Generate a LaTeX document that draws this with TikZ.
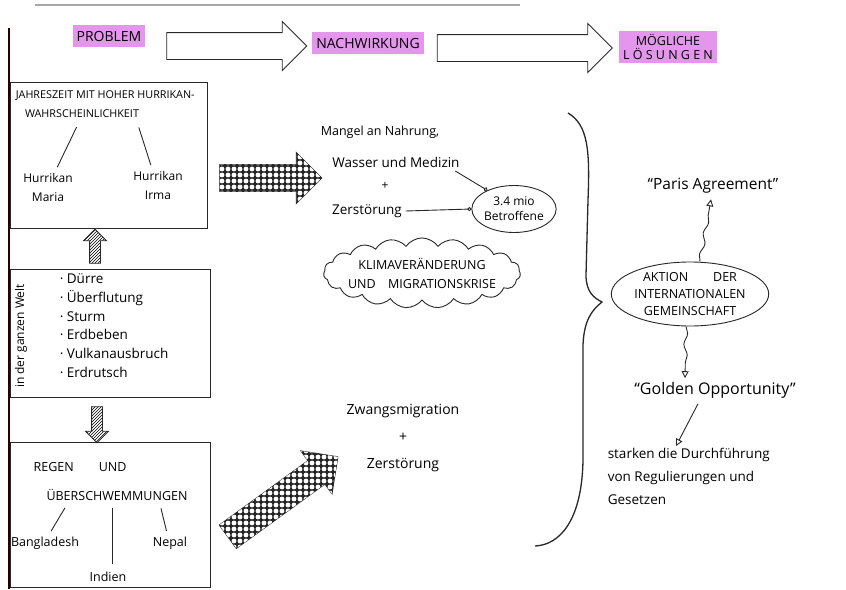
\documentclass[tikz,border=0pt]{standalone}
\usepackage{fontspec}
\setmainfont{Open Sans}
\usetikzlibrary{shapes.geometric,shapes.symbols,shapes.arrows,arrows.meta,patterns,patterns.meta,decorations.pathmorphing}
\definecolor{marker}{RGB}{228,150,236}
\definecolor{ink}{RGB}{40,40,40}
% white cells of the dotted arrows
\tikzdeclarepattern{
  name=cells,
  type=uncolored,
  bounding box={(-3pt,-3pt) and (3pt,3pt)},
  tile size={(6pt,6pt)},
  code={\fill (0pt,0pt) circle (2.4pt);}
}
\newcommand{\fs}[1]{\fontsize{#1}{#1}\selectfont}

\begin{document}
\begin{tikzpicture}[x=1pt,y=-1pt,line width=0.9pt,draw=ink,font=\fs{12}]
	% `marked' is the pink highlighter behind the headings.
	% `hollow', `dotted' and `hatched' are the big block arrows.
	\tikzstyle{marked} = [fill=marker,inner xsep=4pt,inner ysep=6pt,font=\fs{14}]
	\tikzstyle{hollow} = [single arrow,draw,fill=white,inner sep=13pt,single arrow head extend=11pt]
	\tikzstyle{dotted} = [single arrow,draw,fill=black!85,inner sep=13pt,single arrow head extend=12pt,
		postaction={pattern=cells,pattern color=white}]
	\tikzstyle{hatched} = [single arrow,draw,fill=white,pattern=north east lines,inner sep=5pt,single arrow head extend=6pt]
	\tikzstyle{panel} = [draw,rectangle,inner sep=0pt]
	\tikzstyle{link} = [draw,shorten <=2pt,shorten >=2pt]
	\tikzstyle{wiggle} = [draw,-{Triangle[open,length=7pt,width=7pt]},decorate,
		decoration={snake,amplitude=1.8pt,segment length=22pt,post length=8pt}]
	\useasboundingbox (0,0) rectangle (846,589);
	\fill[white] (0,0) rectangle (846,589);
	% paper edges
	\draw[black!35,line width=1.5pt] (35,5) -- (520,5);
	\draw[black!85!red,line width=1.6pt] (9,28) -- (9,589);
	%
	% headings
	\node[marked] (problem) at (109,36) {PROBLEM};
	\node[marked] (nachwirkung) at (368,43) {NACHWIRKUNG};
	\node[marked,inner ysep=3pt,align=center,font=\fontsize{12.5}{14}\selectfont] (loesungen) at (668,47) {MÖGLICHE\\L Ö S U N G E N};
	\node[hollow,minimum height=140pt] (head1) at (230,46) {};
	\node[hollow,minimum height=175pt] (head2) at (518,48) {};
	%
	% left column: the three panels
	\node[panel,minimum width=197pt,minimum height=146pt] (season) at (108.5,155) {};
	\node[panel,minimum width=200pt,minimum height=128pt] (world) at (110,333) {};
	\node[panel,minimum width=200pt,minimum height=145pt] (rain) at (110,514.5) {};
	\node[hatched,rotate=90,minimum height=34pt] (up) at (95,249) {};
	\node[hatched,rotate=-90,minimum height=36pt] (down) at (97,422) {};
	% first panel
	\node[anchor=west,font=\fs{10.8}] (jahres) at (12,96) {JAHRESZEIT MIT HOHER HURRIKAN-};
	\node[font=\fs{10.8}] (wahr) at (82,114) {WAHRSCHEINLICHKEIT};
	\node[align=center,font=\fontsize{12}{19}\selectfont] (maria) at (48,187) {Hurrikan\\Maria};
	\node[align=center,font=\fontsize{12}{19}\selectfont] (irma) at (158,185) {Hurrikan\\Irma};
	\draw[link,shorten <=6pt] (wahr.250) -- (maria.65);
	\draw[link,shorten <=6pt] ([xshift=55pt]wahr.south) -- (irma.110);
	% second panel
	\node[rotate=90,font=\fs{12}] (ganz) at (21,336) {in der ganzen Welt};
	\node[align=left,anchor=north west,font=\fontsize{13.5}{18.7}\selectfont] (list) at (56,270)
		{· Dürre\\· Überflutung\\· Sturm\\· Erdbeben\\· Vulkanausbruch\\· Erdrutsch};
	% third panel
	\node[font=\fs{12.5}] (regen) at (80,467) {REGEN\qquad UND};
	\node[font=\fs{12.5}] (ueber) at (117,495) {ÜBERSCHWEMMUNGEN};
	\node[font=\fs{12.5}] (bangla) at (45,543) {Bangladesh};
	\node[font=\fs{12.5}] (nepal) at (170,543) {Nepal};
	\node[font=\fs{12.5}] (indien) at (108,577) {Indien};
	\draw[link,shorten <=4pt] ([xshift=-50pt]ueber.south) -- ([xshift=5pt]bangla.north);
	\draw[link,shorten <=4pt,shorten >=4pt] ([xshift=-5pt]ueber.south) -- ([xshift=4pt]indien.north);
	\draw[link,shorten <=4pt] ([xshift=43pt]ueber.south) -- ([xshift=-3pt]nepal.north);
	%
	% middle column
	\node[dotted,minimum height=102pt] (push1) at (264,178) {};
	\node[dotted,rotate=36,minimum height=136pt,inner sep=14pt] (push2) at (277,501) {};
	\node[font=\fs{12.5}] (mangel) at (380,132) {Mangel an Nahrung,};
	\node[font=\fs{13.5}] (wasser) at (396,162) {Wasser und Medizin};
	\node (plus) at (385,186) {+};
	\node[font=\fs{13.5}] (zerst) at (367,211) {Zerstörung};
	\node[ellipse,draw,align=center,inner sep=0pt,minimum width=80pt,minimum height=47pt,
		font=\fontsize{12}{15}\selectfont] (betroffen) at (514,209) {3.4 mio\\Betroffene};
	\draw[-{Circle[open,length=4pt]}] ([xshift=-8pt]wasser.south east) -- (betroffen.145);
	\draw[-{Circle[open,length=4pt]}] (zerst.east) -- (betroffen.west);
	\node[cloud,draw,cloud puffs=19,cloud puff arc=110,aspect=3.6,inner xsep=-5pt,inner ysep=-7pt,
		align=center,font=\fontsize{12.5}{19}\selectfont] (klima) at (422,273) {KLIMAVERÄNDERUNG\\UND\quad MIGRATIONSKRISE};
	\node[align=center,font=\fontsize{14}{27}\selectfont] (zwang) at (403,438) {Zwangsmigration\\+\\Zerstörung};
	% brace
	\draw[line width=1.3pt] (568,113) .. controls (588,125) and (590,150) .. (588,200) -- (586,275)
		.. controls (586,292) and (594,298) .. (602,302) .. controls (592,310) and (584,320) .. (583,345)
		-- (583,460) .. controls (582,520) and (560,545) .. (535,546);
	%
	% right column
	\node[font=\fs{15.5}] (paris) at (713,186) {“Paris Agreement”};
	\node[ellipse,draw,align=center,inner sep=0pt,minimum width=144pt,minimum height=64pt,
		font=\fontsize{12.5}{17}\selectfont] (aktion) at (690,294)
		{AKTION\qquad DER\\INTERNATIONALEN\\GEMEINSCHAFT};
	\node[font=\fs{16}] (golden) at (715,390) {“Golden Opportunity”};
	\node[align=left,anchor=west,font=\fontsize{13.5}{23}\selectfont] (starken) at (604,476)
		{starken die Durchführung\\von Regulierungen und\\Gesetzen};
	\path[wiggle] ([xshift=10pt]aktion.north) -- ([xshift=-2pt,yshift=-2pt]paris.south);
	\path[wiggle] ([xshift=-4pt]aktion.south) -- ([xshift=-30pt]golden.north);
	\draw[-{Triangle[open,length=7pt,width=7pt]}] ([xshift=-17pt,yshift=-2pt]golden.south) -- ([xshift=72pt,yshift=-2pt]starken.north west);
\end{tikzpicture}
\end{document}
